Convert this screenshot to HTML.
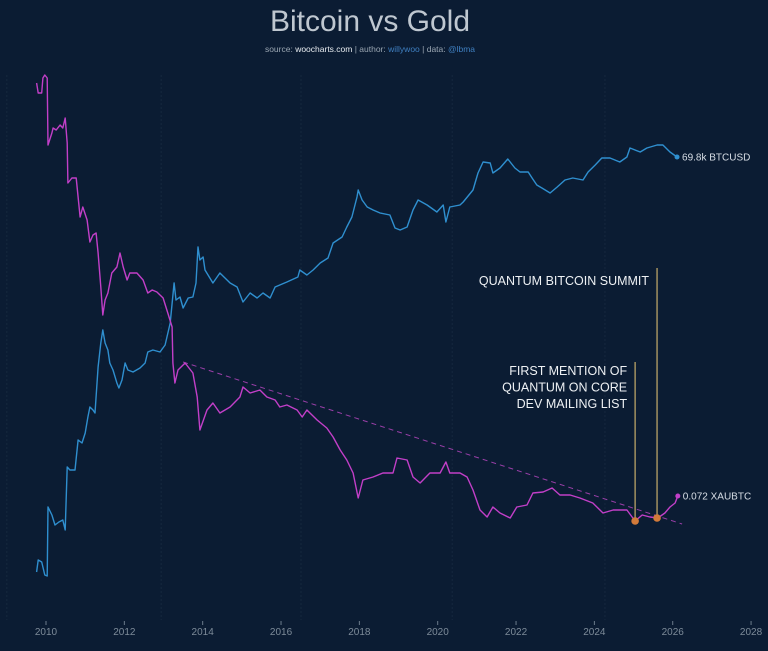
<!DOCTYPE html>
<html><head><meta charset="utf-8"><style>
html,body{margin:0;padding:0;background:#0b1c33;}
svg{display:block;font-family:"Liberation Sans",sans-serif;}
</style></head><body>
<svg id="chart" width="768" height="651" viewBox="0 0 768 651" xmlns="http://www.w3.org/2000/svg">
<rect width="768" height="651" fill="#0b1c33"/>
<text x="370" y="31" text-anchor="middle" font-size="30" fill="#bfc7d0" font-weight="300">Bitcoin vs Gold</text>
<text x="370" y="52" text-anchor="middle" font-size="8.5" fill="#9aa6b2">source: <tspan fill="#e8ecf0">woocharts.com</tspan> | author: <tspan fill="#3f7fc0">willywoo</tspan> | data: <tspan fill="#3f7fc0">@lbma</tspan></text>
<g id="grid"></g><g id="xaxis"></g><g id="marks"></g><g id="annot"></g>
</svg>
<script>
const xTicks=[2010,2012,2014,2016,2018,2020,2022,2024,2026,2028];
const gridYears=[2009.0,2012.94,2016.51,2020.37,2024.27];
const btcYears=[2009.76,2009.80,2009.89,2009.97,2010.03,2010.05,2010.15,2010.23,2010.33,2010.43,2010.49,2010.54,2010.61,2010.74,2010.82,2010.92,2011.00,2011.07,2011.12,2011.20,2011.25,2011.33,2011.40,2011.45,2011.51,2011.58,2011.63,2011.71,2011.81,2011.86,2011.94,2012.02,2012.09,2012.22,2012.40,2012.53,2012.60,2012.73,2012.91,2013.04,2013.17,2013.27,2013.32,2013.42,2013.50,2013.63,2013.75,2013.83,2013.88,2013.93,2014.01,2014.06,2014.26,2014.44,2014.70,2014.88,2015.03,2015.21,2015.39,2015.54,2015.72,2015.85,2016.15,2016.43,2016.48,2016.66,2016.82,2017.00,2017.20,2017.33,2017.56,2017.68,2017.81,2017.94,2017.97,2018.07,2018.20,2018.35,2018.53,2018.78,2018.91,2019.04,2019.22,2019.37,2019.50,2019.73,2019.98,2020.14,2020.21,2020.31,2020.57,2020.65,2020.90,2021.03,2021.16,2021.34,2021.41,2021.59,2021.79,2021.97,2022.10,2022.31,2022.41,2022.53,2022.66,2022.87,2023.05,2023.25,2023.45,2023.71,2023.84,2024.02,2024.19,2024.40,2024.65,2024.83,2024.91,2025.17,2025.34,2025.60,2025.75,2025.93,2026.11];
const btcVals=[48,60,58,45,44,113,105,95,98,100,90,153,150,150,180,177,187,203,213,210,207,253,277,290,277,270,257,250,237,232,240,257,250,248,252,257,268,270,268,275,297,337,320,323,312,322,323,337,373,360,363,350,337,347,337,333,318,327,322,327,322,333,338,343,350,345,350,357,362,377,383,393,403,423,430,420,413,410,407,405,392,390,393,410,420,415,408,415,398,413,415,418,430,447,458,457,447,452,461,452,448,448,442,435,432,427,433,440,442,440,448,455,462,462,458,463,472,468,472,475,475,468,463];
const xauYears=[2009.76,2009.80,2009.89,2009.92,2009.97,2010.03,2010.05,2010.15,2010.18,2010.26,2010.36,2010.43,2010.49,2010.54,2010.56,2010.66,2010.77,2010.82,2010.87,2010.94,2011.05,2011.12,2011.20,2011.28,2011.33,2011.40,2011.45,2011.51,2011.58,2011.68,2011.81,2011.89,2011.97,2012.07,2012.14,2012.32,2012.48,2012.60,2012.71,2012.83,2012.99,2013.11,2013.22,2013.24,2013.29,2013.37,2013.55,2013.75,2013.86,2013.93,2014.11,2014.26,2014.44,2014.70,2014.95,2015.03,2015.21,2015.46,2015.64,2015.85,2015.97,2016.15,2016.41,2016.54,2016.66,2016.92,2017.17,2017.33,2017.51,2017.68,2017.84,2017.97,2018.09,2018.35,2018.60,2018.86,2018.96,2019.22,2019.37,2019.55,2019.80,2020.06,2020.21,2020.31,2020.57,2020.75,2020.90,2021.08,2021.26,2021.41,2021.59,2021.85,2022.02,2022.28,2022.43,2022.69,2022.92,2023.12,2023.38,2023.63,2023.96,2024.22,2024.48,2024.83,2025.04,2025.22,2025.42,2025.62,2025.80,2025.93,2026.06,2026.13];
const xauVals=[537,527,527,542,545,542,475,487,492,490,495,492,502,477,437,442,442,423,403,413,400,378,385,387,367,333,305,320,327,347,353,367,353,340,347,347,340,327,330,328,322,307,293,257,237,250,257,247,223,190,210,217,207,213,223,233,227,230,223,220,213,215,210,203,210,200,192,183,170,160,147,122,140,143,147,147,162,160,143,137,147,147,158,147,147,143,130,110,103,113,107,102,113,115,127,128,132,125,125,122,117,107,110,110,99,105,103,102,107,113,117,124];
const trendYears=[2013.50,2026.24];
const trendVals=[258,96];
const eventYears=[2025.04,2025.60];
const eventVals=[99,102];
const eventTops=[258,352];
const eventLabels=[["FIRST MENTION OF","QUANTUM ON CORE","DEV MAILING LIST"],["QUANTUM BITCOIN SUMMIT"]];
const lastLabels=["69.8k BTCUSD","0.072 XAUBTC"];

const NS="http://www.w3.org/2000/svg";
const X=y=>46+(y-2010)*39.17;
const Y=v=>620-v;
function mk(t,a,p){const e=document.createElementNS(NS,t);for(const k in a)e.setAttribute(k,a[k]);p.appendChild(e);return e;}
const grid=document.getElementById('grid'),xa=document.getElementById('xaxis'),marks=document.getElementById('marks'),an=document.getElementById('annot');
gridYears.forEach(g=>{const l=mk('line',{x1:X(g),x2:X(g),y1:75,y2:620,stroke:'#16283f','stroke-width':1,'stroke-dasharray':'2,2'},grid);

});
xTicks.forEach(t=>{const l=mk('line',{x1:X(t),x2:X(t),y1:621,y2:625,stroke:'#6c7c8c'},xa);


const tx=mk('text',{x:X(t),y:635,'text-anchor':'middle','font-size':10,fill:'#7d8b99'},xa);tx.textContent=t;

});
function path(xs,vs){return xs.map((x,i)=>(i?'L':'M')+X(x).toFixed(1)+','+Y(vs[i]).toFixed(1)).join('');}
const tr=mk('path',{d:path(trendYears,trendVals),stroke:'#9a3fa8','stroke-width':1,'stroke-dasharray':'5,4',fill:'none'},marks);


const b=mk('path',{d:path(btcYears,btcVals),stroke:'#2f8fcf','stroke-width':1.4,fill:'none','stroke-linejoin':'round'},marks);


const g=mk('path',{d:path(xauYears,xauVals),stroke:'#c23fc8','stroke-width':1.4,fill:'none','stroke-linejoin':'round'},marks);


const bl=btcYears.length-1,gl=xauYears.length-1;
const bd=mk('circle',{cx:X(btcYears[bl]),cy:Y(btcVals[bl]),r:2.5,fill:'#2f8fcf'},marks);


const gd=mk('circle',{cx:X(xauYears[gl]),cy:Y(xauVals[gl]),r:2.5,fill:'#c23fc8'},marks);


const bt=mk('text',{x:X(btcYears[bl])+5,y:Y(btcVals[bl])+3.5,'font-size':10,fill:'#d8dee6'},marks);bt.textContent=lastLabels[0];


const gt=mk('text',{x:X(xauYears[gl])+5,y:Y(xauVals[gl])+3.5,'font-size':10,fill:'#d8dee6'},marks);gt.textContent=lastLabels[1];


eventYears.forEach((ey,i)=>{
const l=mk('line',{x1:X(ey),x2:X(ey),y1:Y(eventTops[i]),y2:Y(eventVals[i]),stroke:'#b9a267','stroke-width':1.3},an);


const c=mk('circle',{cx:X(ey),cy:Y(eventVals[i]),r:3.8,fill:'#d27a3a'},an);


const lines=eventLabels[i];
lines.forEach((s,j)=>{const t=mk('text',{x:X(ey)-8,y:Y(eventTops[i])+(i==0?13:17)+j*16.5,'text-anchor':'end','font-size':12.5,fill:'#eef1f4'},an);t.textContent=s;

});
});
</script>
</body></html>
